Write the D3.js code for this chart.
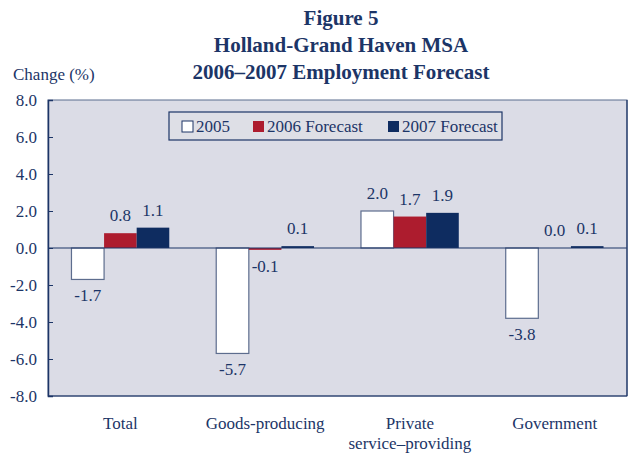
<!DOCTYPE html>
<html><head><meta charset="utf-8">
<script src="https://cdn.jsdelivr.net/npm/d3@7"></script>
<style>body{margin:0;background:#fff}svg{display:block}</style>
</head><body>
<script>
const categories = ["Total", "Goods-producing", "Private|service–providing", "Government"];
const seriesNames = ["2005", "2006 Forecast", "2007 Forecast"];
const v2005 = [-1.7, -5.7, 2.0, -3.8];
const v2006 = [0.8, -0.1, 1.7, 0.0];
const v2007 = [1.1, 0.1, 1.9, 0.1];
const yTicks = [8, 6, 4, 2, 0, -2, -4, -6, -8];
const titleLines = ["Figure 5", "Holland-Grand Haven MSA", "2006–2007 Employment Forecast"];
const yLabel = "Change (%)";

const W = 631, H = 454;
const colors = ["#ffffff", "#ad1c2e", "#0e2c60"];
const navy = "#1c3567";
const font = "'Liberation Serif', 'Times New Roman', serif";
const FS = 17;
const L = 48, R = 627, T = 100, B = 396;
const fmt = v => (v < 0 ? "-" : "") + Math.abs(v).toFixed(1);

const svg = d3.select("body").append("svg").attr("width", W).attr("height", H)
  .style("font-family", font);

// title
svg.append("g").selectAll("text").data(titleLines).join("text")
  .attr("x", 341).attr("y", (d, i) => 25 + i * 27)
  .attr("text-anchor", "middle").attr("font-weight", "bold").attr("font-size", 21)
  .attr("fill", navy).text(d => d);
svg.append("text").attr("x", 13).attr("y", 80).attr("font-size", FS).attr("fill", navy).text(yLabel);

const y = d3.scaleLinear().domain([-8, 8]).range([B, T]);
const x0 = d3.scaleBand().domain(categories).range([L, R]).padding(0);
const x1 = d3.scaleBand().domain(seriesNames).range([0, x0.bandwidth()]).paddingInner(0).paddingOuter(0.72);

svg.append("rect").attr("x", L).attr("y", T).attr("width", R - L).attr("height", B - T)
  .attr("fill", "#dbdce6");

const data = categories.map((c, i) => ({ c, vals: [v2005[i], v2006[i], v2007[i]] }));

const g = svg.append("g");
const groups = g.selectAll("g").data(data).join("g").attr("transform", d => `translate(${x0(d.c)},0)`);
groups.selectAll("rect").data(d => d.vals.map((v, k) => ({ v, k }))).join("rect")
  .attr("x", d => x1(seriesNames[d.k]))
  .attr("width", x1.bandwidth())
  .attr("y", d => y(Math.max(0, d.v)))
  .attr("height", d => Math.abs(y(d.v) - y(0)))
  .attr("fill", d => colors[d.k])
  .attr("stroke", d => d.k === 0 ? "#5d6d8e" : "none")
  .attr("stroke-width", 1.2);

groups.selectAll("text").data(d => d.vals.map((v, k) => ({ v, k }))).join("text")
  .attr("x", d => x1(seriesNames[d.k]) + x1.bandwidth() / 2)
  .attr("y", d => d.v < 0 ? y(d.v) + 22 : y(d.v) - 12)
  .attr("text-anchor", "middle").attr("font-size", FS).attr("fill", navy)
  .text(d => fmt(d.v));

// zero line
svg.append("line").attr("x1", L).attr("x2", R).attr("y1", y(0)).attr("y2", y(0))
  .attr("stroke", navy).attr("stroke-width", 1.2);

// border
svg.append("rect").attr("x", L).attr("y", T).attr("width", R - L).attr("height", B - T)
  .attr("fill", "none").attr("stroke", "#5b6c8e").attr("stroke-width", 1);
svg.append("line").attr("x1", R).attr("x2", R).attr("y1", T).attr("y2", B).attr("stroke", navy).attr("stroke-width", 1.2);
svg.append("line").attr("x1", L).attr("x2", R).attr("y1", B).attr("y2", B).attr("stroke", navy).attr("stroke-width", 1.2);

// y axis
const yAxis = d3.axisLeft(y).tickValues(yTicks).tickSize(-5).tickPadding(10).tickFormat(fmt);
const ya = svg.append("g").attr("transform", `translate(${L},0)`).call(yAxis);
ya.select(".domain").attr("stroke", navy).attr("stroke-width", 1.5);
ya.selectAll(".tick line").attr("stroke", navy);
ya.selectAll(".tick text").attr("font-family", font).attr("font-size", FS).attr("fill", navy).attr("x", -11);

// x labels
const xl = svg.append("g").selectAll("text").data(categories).join("text")
  .attr("x", d => x0(d) + x0.bandwidth() / 2).attr("y", 429)
  .attr("text-anchor", "middle").attr("font-size", FS).attr("fill", navy);
xl.selectAll("tspan").data(d => d.split("|")).join("tspan")
  .attr("x", function () { return d3.select(this.parentNode).attr("x"); })
  .attr("dy", (d, i) => i === 0 ? 0 : 20).text(d => d);

// legend
const lg = svg.append("g");
lg.append("rect").attr("x", 169).attr("y", 112).attr("width", 333).attr("height", 28)
  .attr("fill", "#dedfe6").attr("stroke", navy).attr("stroke-width", 1.2);
const legX = [182, 253, 388];
const li = lg.selectAll("g.it").data(seriesNames).join("g").attr("class", "it")
  .attr("transform", (d, i) => `translate(${legX[i]},121)`);
li.append("rect").attr("width", 11).attr("height", 11)
  .attr("fill", (d, i) => colors[i]).attr("stroke", (d, i) => i === 0 ? navy : "none");
li.append("text").attr("x", 14).attr("y", 11).attr("font-size", FS).attr("fill", navy).text(d => d);
</script>
</body></html>
